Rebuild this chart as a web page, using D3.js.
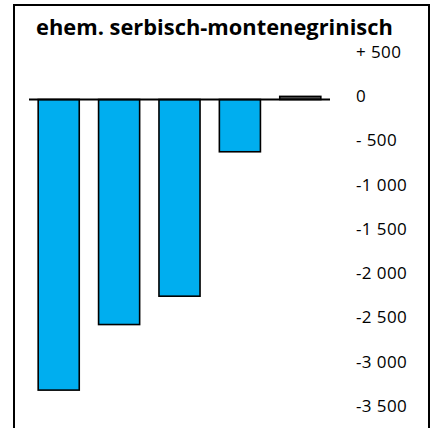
<!DOCTYPE html>
<html>
<head>
<meta charset="utf-8">
<script src="https://cdn.jsdelivr.net/npm/d3@7"></script>
<style>
  body { margin: 0; background: #fff; }
  svg { display: block; }
</style>
</head>
<body>
<div id="chart"></div>
<script>
// chart data
const title = 'ehem. serbisch-montenegrinisch';
const categories = ['A', 'B', 'C', 'D', 'E'];
const values = [-3280, -2540, -2220, -590, 35];
const tickValues = [500, 0, -500, -1000, -1500, -2000, -2500, -3000, -3500];
const tickLabels = ['+ 500', '0', '- 500', '-1 000', '-1 500', '-2 000', '-2 500', '-3 000', '-3 500'];

const width = 436, height = 428;
const svg = d3.select('#chart').append('svg')
    .attr('width', width)
    .attr('height', height);

// outer frame (bottom edge runs off the picture)
svg.append('path')
    .attr('d', 'M14,440 V5 H429 V440')
    .attr('fill', 'none')
    .attr('stroke', '#000')
    .attr('stroke-width', 2);

const x = d3.scaleBand()
    .domain(categories)
    .range([29, 330])
    .paddingInner(0.32)
    .paddingOuter(0.152);

const y = d3.scaleLinear()
    .domain([0, -3500])
    .range([99.5, 409.6]);

// bars
svg.append('g')
    .selectAll('rect')
    .data(values)
    .enter().append('rect')
    .attr('x', (d, i) => x(categories[i]))
    .attr('width', x.bandwidth())
    .attr('y', d => Math.min(y(d), y(0)))
    .attr('height', d => Math.abs(y(d) - y(0)))
    .attr('fill', d => d < 0 ? '#00aeef' : '#555')
    .attr('stroke', '#000')
    .attr('stroke-width', 1.6);

// zero line
svg.append('line')
    .attr('x1', 29).attr('x2', 330)
    .attr('y1', y(0)).attr('y2', y(0))
    .attr('stroke', '#000')
    .attr('stroke-width', 2);

// value axis on the right, labels only
const axis = d3.axisRight(y)
    .tickValues(tickValues)
    .tickSize(0)
    .tickPadding(0)
    .tickFormat((d, i) => tickLabels[i]);

const ag = svg.append('g')
    .attr('transform', 'translate(356,-3.5)')
    .call(axis);
ag.select('.domain').remove();
ag.selectAll('text')
    .attr('font-family', '"Open Sans", "Noto Sans", sans-serif')
    .attr('font-size', 17)
    .attr('letter-spacing', 0.4)
    .attr('fill', '#000')
    .attr('text-anchor', 'start');

// title
const t = svg.append('text')
    .attr('x', 36)
    .attr('y', 35)
    .attr('font-family', '"Open Sans", "Noto Sans", sans-serif')
    .attr('font-weight', 'bold')
    .attr('font-size', 17)
    .attr('fill', '#000')
    .text(title);
const w = t.node().getComputedTextLength();
t.attr('font-size', 17 * 357 / w);
</script>
</body>
</html>
